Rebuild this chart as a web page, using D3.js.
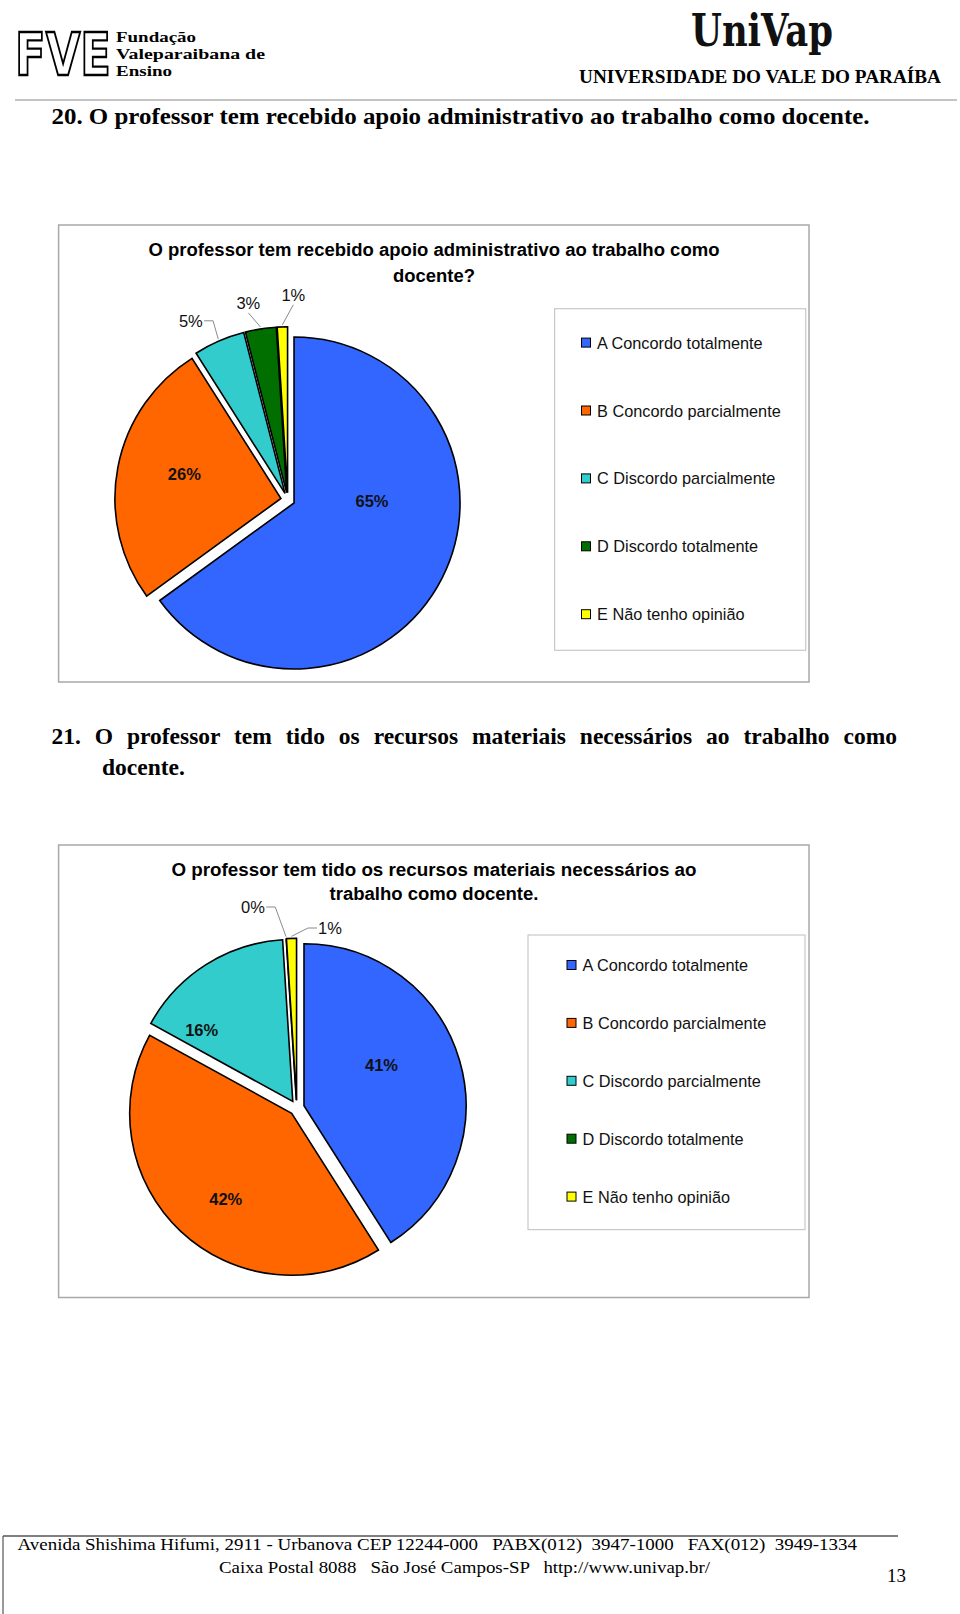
<!DOCTYPE html>
<html><head><meta charset="utf-8">
<script src="https://cdn.jsdelivr.net/npm/d3@7"></script>
<style>body{margin:0;background:#fff}text{white-space:pre}</style>
</head><body>
<svg id="page" width="960" height="1614"></svg>
<script>
// ---------- data ----------
const categories = ["A Concordo totalmente","B Concordo parcialmente","C Discordo parcialmente","D Discordo totalmente","E Não tenho opinião"];
const values20 = [65, 26, 5, 3, 1];
const values21 = [41, 42, 16, 0, 1];
const colors = ["#3366ff","#ff6600","#33cccc","#006f00","#ffff00"];
const title20 = ["O professor tem recebido apoio administrativo ao trabalho como","docente?"];
const title21 = ["O professor tem tido os recursos materiais necessários ao","trabalho como docente."];
const heading20 = ["20. O professor tem recebido apoio administrativo ao trabalho como docente."];
const heading21 = ["21. O professor tem tido os recursos materiais necessários ao trabalho como","docente."];
const fveLines = ["Fundação","Valeparaibana de","Ensino"];
const univName = "UNIVERSIDADE DO VALE DO PARAÍBA";
const footerLines = ["Avenida Shishima Hifumi, 2911 - Urbanova CEP 12244-000   PABX(012)  3947-1000   FAX(012)  3949-1334",
                     "Caixa Postal 8088   São José Campos-SP   http://www.univap.br/"];
const pageNumber = "13";

// ---------- layout ----------
const SANS = "'Liberation Sans', Arial, Helvetica, sans-serif";
const SERIF = "'Liberation Serif', 'Times New Roman', serif";
const layout20 = {
  box:[58.6,225,809,682], titleX:434, titleY:[256,282], titleLen:[571,82], titleSize:17.5,
  cx:287.8, cy:499.8, r:166, explode:7,
  inside:{0:[88.5,0.47],1:[284.2,0.6]},
  outside:{2:[-97,-179],3:[-39.5,-197],4:[5.5,-205]},
  legendBox:[554.6,308.7,805.7,650.3], legendY0:342.6, legendStep:67.9, legendSqX:581.5, legendTextX:597
};
const layout21 = {
  box:[58.6,845,809,1297.5], titleX:434, titleY:[875.5,900], titleLen:[525,209], titleSize:17.5,
  cx:296.8, cy:1107.8, r:162, explode:7.5,
  inside:{0:[62.4,0.54],1:[217.4,0.67],2:[308.1,0.715]},
  outside:{3:[-43.8,-200.8],4:[33.2,-179.8]},
  legendBox:[528,935,805,1229.6], legendY0:965, legendStep:57.9, legendSqX:567, legendTextX:582.5
};

const svg = d3.select("#page");
svg.append("rect").attr("width",960).attr("height",1614).attr("fill","#fff");

// ---------- header ----------
svg.append("g").attr("transform","translate(15,75) scale(1,1.28)")
  .append("text").attr("x",0).attr("y",0).attr("font-family","'DejaVu Sans', sans-serif")
  .attr("font-weight","bold").attr("font-size",46).attr("fill","#fff").attr("stroke","#000").attr("stroke-width",1.8)
  .attr("textLength",96).attr("lengthAdjust","spacingAndGlyphs").text("FVE");
const fveLen = [80, 149, 56];
fveLines.forEach((t,i)=>{
  svg.append("text").attr("x",116).attr("y",41.5+i*17).attr("font-family",SERIF).attr("font-weight","bold")
    .attr("font-size",14.5).attr("textLength",fveLen[i]).attr("lengthAdjust","spacingAndGlyphs").text(t);
});
svg.append("text").attr("x",691).attr("y",46).attr("font-family","'DejaVu Serif', serif").attr("font-weight","bold")
  .attr("font-size",45).attr("fill","#111").attr("textLength",142).attr("lengthAdjust","spacingAndGlyphs").text("UniVap");
svg.append("text").attr("x",579).attr("y",82.5).attr("font-family",SERIF).attr("font-weight","bold")
  .attr("font-size",19).attr("textLength",362).attr("lengthAdjust","spacingAndGlyphs").text(univName);
svg.append("line").attr("x1",15).attr("x2",957).attr("y1",100).attr("y2",100).attr("stroke","#c4c4c4").attr("stroke-width",2);

// headings
svg.append("text").attr("x",51.5).attr("y",124).attr("font-family",SERIF).attr("font-weight","bold")
  .attr("font-size",23.5).attr("textLength",818).attr("lengthAdjust","spacingAndGlyphs").text(heading20[0]);
const h21 = svg.append("text").attr("x",51.5).attr("y",744).attr("font-family",SERIF).attr("font-weight","bold")
  .attr("font-size",23.5).text(heading21[0]);
{ // justify line by widening word spacing
  const natural = h21.node().getComputedTextLength();
  const spaces = heading21[0].split(" ").length - 1;
  const target = 845.5;
  if (natural < target) h21.attr("word-spacing", (target-natural)/spaces);
  else h21.attr("textLength",target).attr("lengthAdjust","spacingAndGlyphs");
}
svg.append("text").attr("x",102).attr("y",775).attr("font-family",SERIF).attr("font-weight","bold")
  .attr("font-size",23.5).text(heading21[1]);

// ---------- pie charts ----------
function drawPie(L, values, titleLines){
  const g = svg.append("g");
  g.append("rect").attr("x",L.box[0]).attr("y",L.box[1]).attr("width",L.box[2]-L.box[0]).attr("height",L.box[3]-L.box[1])
    .attr("fill","#fff").attr("stroke","#a8a8a8").attr("stroke-width",1.5);
  titleLines.forEach((t,i)=>{
    g.append("text").attr("x",L.titleX).attr("y",L.titleY[i]).attr("text-anchor","middle")
      .attr("font-family",SANS).attr("font-weight","bold").attr("font-size",L.titleSize)
      .attr("textLength",L.titleLen[i]).attr("lengthAdjust","spacingAndGlyphs").text(t);
  });
  const pie = d3.pie().sort(null).value(d=>d);
  const arcs = pie(values);
  const arc = d3.arc().innerRadius(0).outerRadius(L.r);
  const pg = g.append("g").attr("transform",`translate(${L.cx},${L.cy})`);
  const deg = Math.PI/180;
  arcs.forEach((a,i)=>{
    const mid=(a.startAngle+a.endAngle)/2;
    const ox=L.explode*Math.sin(mid), oy=-L.explode*Math.cos(mid);
    const sg = pg.append("g").attr("transform",`translate(${ox},${oy})`);
    sg.append("path").attr("d",arc(a)).attr("fill",colors[i]).attr("stroke","#000")
      .attr("stroke-width",1.6).attr("stroke-linejoin","miter");
    const lbl = values[i] + "%";
    if (L.inside[i]) {
      const [ang, fr] = L.inside[i];
      sg.append("text").attr("x",Math.sin(ang*deg)*fr*L.r).attr("y",-Math.cos(ang*deg)*fr*L.r)
        .attr("text-anchor","middle").attr("dominant-baseline","central")
        .attr("font-family",SANS).attr("font-weight","bold").attr("font-size",16.5).attr("fill","#111").text(lbl);
    }
  });
  // outside labels with leader lines
  arcs.forEach((a,i)=>{
    if (!L.outside[i]) return;
    const mid=(a.startAngle+a.endAngle)/2;
    const ox=L.explode*Math.sin(mid), oy=-L.explode*Math.cos(mid);
    const px = ox + (L.r+2)*Math.sin(mid), py = oy - (L.r+2)*Math.cos(mid);
    const [lx, ly] = L.outside[i];
    const t = pg.append("text").attr("x",lx).attr("y",ly).attr("text-anchor","middle").attr("dominant-baseline","central")
      .attr("font-family",SANS).attr("font-size",16.5).attr("fill","#111").text(values[i] + "%");
    const bb = t.node().getBBox();
    let pts;
    if (lx < px - 15) pts = [[bb.x+bb.width+1, ly],[bb.x+bb.width+10, ly],[px,py]];
    else if (lx > px + 15) pts = [[bb.x-1, ly],[bb.x-10, ly],[px,py]];
    else pts = [[lx, bb.y+bb.height+1],[px,py]];
    pg.append("path").attr("d",d3.line()(pts)).attr("fill","none").attr("stroke","#8a8a8a").attr("stroke-width",1);
  });
  // legend
  const lb = L.legendBox;
  g.append("rect").attr("x",lb[0]).attr("y",lb[1]).attr("width",lb[2]-lb[0]).attr("height",lb[3]-lb[1])
    .attr("fill","#fff").attr("stroke","#c8c8c8").attr("stroke-width",1.2);
  categories.forEach((c,i)=>{
    const y = L.legendY0 + i*L.legendStep;
    g.append("rect").attr("x",L.legendSqX).attr("y",y-4.5).attr("width",9).attr("height",9)
      .attr("fill",colors[i]).attr("stroke","#000").attr("stroke-width",1);
    g.append("text").attr("x",L.legendTextX).attr("y",y).attr("dominant-baseline","central")
      .attr("font-family",SANS).attr("font-size",16.3).attr("fill","#111").text(c);
  });
}
drawPie(layout20, values20, title20);
drawPie(layout21, values21, title21);

// ---------- footer ----------
svg.append("line").attr("x1",3).attr("x2",898).attr("y1",1536).attr("y2",1536).attr("stroke","#555").attr("stroke-width",1.5);
svg.append("line").attr("x1",3).attr("x2",3).attr("y1",1536).attr("y2",1614).attr("stroke","#555").attr("stroke-width",1.2);
svg.append("text").attr("x",17.5).attr("y",1550).attr("font-family",SERIF).attr("font-size",17)
  .attr("textLength",839.5).attr("lengthAdjust","spacingAndGlyphs").text(footerLines[0]);
svg.append("text").attr("x",219).attr("y",1573).attr("font-family",SERIF).attr("font-size",17)
  .attr("textLength",491).attr("lengthAdjust","spacingAndGlyphs").text(footerLines[1]);
svg.append("text").attr("x",887).attr("y",1582).attr("font-family",SERIF).attr("font-size",19).text(pageNumber);
</script>
</body></html>
